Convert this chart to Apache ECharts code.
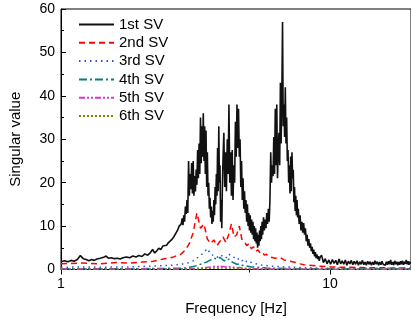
<!DOCTYPE html>
<html>
<head>
<meta charset="utf-8">
<script src="https://cdn.jsdelivr.net/npm/echarts@6.0.0/dist/echarts.min.js"></script>
<style>
html, body { margin: 0; padding: 0; background: #fff; }
#main { width: 411px; height: 324px; }
</style>
</head>
<body>
<div id="main"></div>
<script>
// frequency grid of the 1st SV (dense, it is a noisy band)
var freqA = [
    1.00,1.03,1.06,1.09,1.12,1.15,1.18,1.21,1.24,1.27,1.30,1.33,1.36,1.40,1.44,1.47,1.50,1.54,1.58,1.62,1.66,1.70,1.75,1.80,1.85,1.90,1.95,2.00,2.05,2.10,2.15,2.19,2.23,2.27,2.31,2.35,2.39,2.43,2.47,2.51,2.55,2.59,2.63,2.67,2.71,2.75,2.78,
    2.80,2.82,2.84,2.86,2.88,2.90,2.92,2.94,2.96,2.98,3.00,3.02,3.04,3.06,3.08,3.10,3.12,3.14,3.16,3.18,
    3.20,3.22,3.24,3.26,3.28,3.30,3.32,3.34,3.36,3.38,3.40,3.42,3.44,3.46,3.48,3.50,3.52,3.54,3.56,3.58,
    3.60,3.62,3.64,3.66,3.68,3.70,3.72,3.74,3.76,3.78,3.80,3.82,3.84,3.86,3.88,3.90,3.92,3.94,3.96,3.98,
    4.00,4.03,4.06,4.09,4.12,4.15,4.18,4.21,4.24,4.27,4.30,4.33,4.36,4.39,4.42,4.45,4.48,4.51,4.54,4.57,
    4.60,4.63,4.66,4.69,4.72,4.75,4.78,4.81,4.84,4.87,4.90,4.93,4.96,4.99,5.02,5.05,5.08,5.11,5.14,5.17,
    5.20,5.23,5.26,5.29,5.32,5.35,5.38,5.41,5.44,5.47,5.50,5.53,5.56,5.59,
    5.62,5.66,5.70,5.74,5.78,5.82,5.86,5.90,5.94,5.98,6.02,6.06,6.10,6.14,6.18,6.22,6.26,6.30,6.34,6.38,
    6.42,6.46,6.50,6.54,6.58,6.62,6.66,6.70,6.74,6.78,6.82,6.86,6.90,6.94,6.98,7.02,7.06,7.10,7.14,7.18,
    7.22,7.26,7.30,7.34,7.38,7.42,7.46,7.50,7.54,7.58,
    7.62,7.68,7.74,7.80,7.86,7.92,7.98,8.04,8.10,8.16,8.22,8.28,8.34,8.40,8.46,8.52,8.58,8.64,8.70,8.76,
    8.82,8.88,8.94,9.00,9.06,9.12,9.18,
    9.30,9.45,9.60,9.75,9.90,10.05,10.20,10.35,10.50,10.65,10.80,10.95,11.10,11.25,11.40,11.55,11.70,11.85,12.00,12.15,
    12.30,12.45,12.60,12.75,12.90,13.05,13.20,13.35,13.50,13.65,13.80,13.95,14.10,14.25,14.40,14.55,14.70,14.85,15.00,15.15,
    15.30,15.45,15.60,15.75,15.90,16.05,16.20,16.35,16.50,16.65,16.80,16.95,17.10,17.25,17.40,17.55,17.70,17.85,18.00,18.15,
    18.30,18.45,18.60,18.75,18.90,19.05,19.20,19.35,19.50,19.65,19.80,19.95
];
var sv1 = [
    1.8,2.0,1.8,2.1,1.9,2.3,3.2,2.5,2.3,2.0,2.3,2.1,2.4,2.6,2.8,3.1,2.6,2.7,2.5,2.6,2.4,2.7,2.9,2.7,3.1,2.9,3.2,3.0,3.6,3.3,3.9,4.6,3.8,4.3,4.9,4.6,5.4,5.1,5.6,6.2,6.0,7.0,7.6,7.2,9.0,10.0,9.6,
    10.5,11.8,10.2,12.5,11.0,14.5,12.8,16.0,13.0,25.0,17.0,22.0,18.5,24.5,17.5,25.0,17.0,21.5,18.0,23.0,
    19.5,27.5,21.0,29.0,22.0,35.0,24.5,33.0,26.0,36.0,25.0,33.0,22.0,32.0,19.0,27.0,17.0,20.0,14.0,16.5,
    12.0,14.5,10.5,13.5,11.0,16.0,12.5,19.0,15.0,22.0,17.0,28.0,18.0,33.0,20.0,24.0,11.0,16.0,9.5,19.0,
    25,31.5,19,27,18,30,22,38,20,27,17,27.5,16,24,20,34,26,38,28,37,
    26,30,19,25,16,21,14,18,13,16,11,15,10,13,9,12.5,8.5,11.5,8,11,
    7,10,6.5,9.5,6,8.5,5,8,5.5,9,6.5,10,7,11,
    8,12,9,11.5,9.5,13,10.5,14,11,16,27,20,24,21.5,30.5,22,37,24,38,21,
    27.5,31.5,24,43,29,40,57,33,38,30.5,42,29,35,25,27.5,20,24,17.5,26,18,
    27,21,23,15.5,19,13.5,17,12.5,16,12,
    14,10.5,12.5,9,11,8.5,10.7,8,9.5,6.5,8,5.5,7,5,6,4.2,5.2,3.6,4.6,3,
    4,2.6,3.5,2.4,3.1,2.0,2.8,
    3.3,1.6,2.5,1.3,2.2,1.2,2.3,1.4,2.1,1.1,2.4,1.3,2.0,1.2,2.2,1.0,1.9,1.3,2.1,1.1,
    1.9,1.2,2.0,1.0,1.8,1.2,2.1,1.1,1.7,1.0,1.9,1.2,1.8,1.0,1.7,1.1,2.0,1.2,1.8,1.0,
    1.7,1.1,1.9,1.2,1.6,1.0,1.8,1.1,1.9,1.2,2.2,1.1,1.7,1.0,2.0,1.2,1.8,1.0,1.7,1.1,
    1.9,1.2,2.0,1.1,1.8,1.3,2.2,1.2,1.9,1.1,1.8,1.3
];

// frequency grid of the smaller singular values
var freqB = [
    1.0,1.2,1.4,1.6,1.8,2.0,2.2,2.4,2.6,2.8,
    2.9,3.0,3.1,3.2,3.3,3.4,3.5,3.6,3.7,3.8,3.9,4.0,4.1,4.2,4.3,4.4,
    4.5,4.6,4.7,4.8,4.9,5.0,5.1,5.2,5.3,5.4,5.5,5.6,5.7,5.8,5.9,6.0,
    6.25,6.5,6.75,7.0,7.25,7.5,7.75,8.0,
    9,10,11,12,13,14,15,16,17,18,19,20
];
var sv2 = [
    1.3,1.5,1.3,1.6,1.5,1.7,1.9,2.4,2.8,3.6,
    4.5,6.0,8.5,13.0,9.5,10.5,7.0,6.0,6.8,5.5,6.5,7.5,6.2,8.0,10.5,7.5,
    8.0,10.0,7.0,6.5,5.5,6.0,4.8,5.2,4.2,4.5,3.8,4.0,3.3,3.5,3.0,3.2,
    2.6,2.8,2.2,2.0,1.8,1.6,1.3,1.1,
    0.8,0.6,0.5,0.5,0.45,0.4,0.4,0.4,0.35,0.35,0.35,0.35
];
var sv3 = [
    0.5,0.6,0.5,0.6,0.6,0.7,0.8,0.9,1.0,1.2,
    1.4,1.6,2.0,2.6,3.2,4.0,4.8,3.5,3.2,2.8,3.4,3.0,2.6,3.6,3.0,2.8,
    2.2,2.6,2.0,2.4,1.8,2.0,1.6,1.5,1.3,1.2,1.1,1.0,0.9,0.9,0.8,0.8,
    0.7,0.7,0.6,0.6,0.5,0.5,0.45,0.4,
    0.35,0.3,0.3,0.3,0.3,0.3,0.3,0.3,0.3,0.3,0.3,0.3
];
var sv4 = [
    0.2,0.2,0.15,0.2,0.2,0.2,0.25,0.25,0.3,0.3,
    0.4,0.5,0.7,0.9,1.2,1.5,1.8,2.2,2.6,2.4,2.8,2.2,1.9,2.4,1.8,1.5,
    1.2,1.3,1.0,0.9,0.8,0.7,0.6,0.6,0.5,0.5,0.45,0.4,0.4,0.35,0.35,0.3,
    0.3,0.3,0.25,0.25,0.2,0.2,0.2,0.2,
    0.15,0.15,0.15,0.15,0.15,0.15,0.15,0.15,0.15,0.15,0.15,0.15
];
var sv5 = [
    0.1,0.1,0.1,0.1,0.1,0.1,0.1,0.1,0.1,0.1,
    0.15,0.2,0.25,0.3,0.35,0.45,0.5,0.6,0.7,0.65,0.8,0.7,0.6,0.7,0.55,0.5,
    0.4,0.45,0.35,0.3,0.3,0.25,0.25,0.2,0.2,0.2,0.15,0.15,0.15,0.15,0.1,0.1,
    0.1,0.1,0.1,0.1,0.1,0.1,0.1,0.1,
    0.08,0.08,0.08,0.08,0.08,0.08,0.08,0.08,0.08,0.08,0.08,0.08
];
var sv6 = [
    0.05,0.05,0.05,0.05,0.05,0.05,0.05,0.05,0.05,0.05,
    0.05,0.08,0.1,0.12,0.15,0.2,0.25,0.3,0.35,0.3,0.4,0.35,0.3,0.35,0.25,0.2,
    0.2,0.2,0.15,0.15,0.12,0.1,0.1,0.1,0.08,0.08,0.08,0.06,0.06,0.05,0.05,0.05,
    0.05,0.05,0.05,0.05,0.05,0.05,0.05,0.05,
    0.05,0.05,0.05,0.05,0.05,0.05,0.05,0.05,0.05,0.05,0.05,0.05
];

var names = ['1st SV', '2nd SV', '3rd SV', '4th SV', '5th SV', '6th SV'];
var xLabels = [1, 10];
var xMinorTicks = [5];

function pairs(fs, vs) {
    var out = [];
    for (var i = 0; i < Math.min(fs.length, vs.length); i++) out.push([fs[i], vs[i]]);
    return out;
}

var font = 'Liberation Sans, Arial, sans-serif';

function mkSeries(name, data, color, width, dash) {
    return {
        name: name, type: 'line', data: data, symbol: 'none', showSymbol: false,
        silent: true, animation: false,
        itemStyle: { color: color },
        lineStyle: { color: color, width: width, type: dash }
    };
}

var myChart = echarts.init(document.getElementById('main'), null, { renderer: 'canvas' });
var option = {
    animation: false,
    grid: { left: 60, right: 0, top: 9, bottom: 54.5, show: true, borderColor: '#000', borderWidth: 1 },
    legend: {
        orient: 'vertical', left: 73, top: 12, itemWidth: 35, itemHeight: 14, itemGap: 3.3,
        itemStyle: { opacity: 0 },
        textStyle: { fontSize: 15, color: '#000', fontFamily: font },
        data: names
    },
    xAxis: [{
        type: 'log', logBase: 10, min: 1, max: 20, position: 'bottom',
        name: 'Frequency [Hz]', nameLocation: 'middle', nameGap: 32,
        nameTextStyle: { fontSize: 15, color: '#000', fontFamily: font },
        axisLine: { lineStyle: { color: '#000', width: 1 } },
        axisTick: { inside: false, length: 5, customValues: xLabels, lineStyle: { color: '#000' } },
        axisLabel: { customValues: xLabels, fontSize: 14, color: '#000', fontFamily: font, margin: 8 },
        splitLine: { show: false }, minorTick: { show: false }
    }, {
        type: 'log', logBase: 10, min: 1, max: 20, position: 'bottom',
        axisLine: { show: false },
        axisTick: { inside: false, length: 3, customValues: xMinorTicks, lineStyle: { color: '#000' } },
        axisLabel: { show: false },
        splitLine: { show: false }
    }],
    yAxis: {
        type: 'value', min: 0, max: 60, interval: 10,
        name: 'Singular value', nameLocation: 'middle', nameGap: 38,
        nameTextStyle: { fontSize: 15, color: '#000', fontFamily: font },
        axisLine: { show: true, lineStyle: { color: '#000', width: 1 } },
        axisTick: { show: true, inside: true, length: 5, lineStyle: { color: '#000' } },
        minorTick: { show: true, splitNumber: 2, length: 3, lineStyle: { color: '#000' } },
        axisLabel: { fontSize: 14, color: '#000', fontFamily: font, margin: 6 },
        splitLine: { show: false }
    },
    series: [
        mkSeries(names[0], pairs(freqA, sv1), '#111111', 1.6, 'solid'),
        mkSeries(names[1], pairs(freqB, sv2), '#ff0000', 1.5, [6, 4]),
        mkSeries(names[2], pairs(freqB, sv3), '#2f4fd8', 1.5, [1.5, 4]),
        mkSeries(names[3], pairs(freqB, sv4), '#008080', 1.5, [8, 3, 2, 3]),
        mkSeries(names[4], pairs(freqB, sv5), '#dd33dd', 1.5, [6, 2, 2, 2, 2, 2]),
        mkSeries(names[5], pairs(freqB, sv6), '#808000', 1.5, [2, 2])
    ]
};
myChart.setOption(option);
</script>
</body>
</html>
